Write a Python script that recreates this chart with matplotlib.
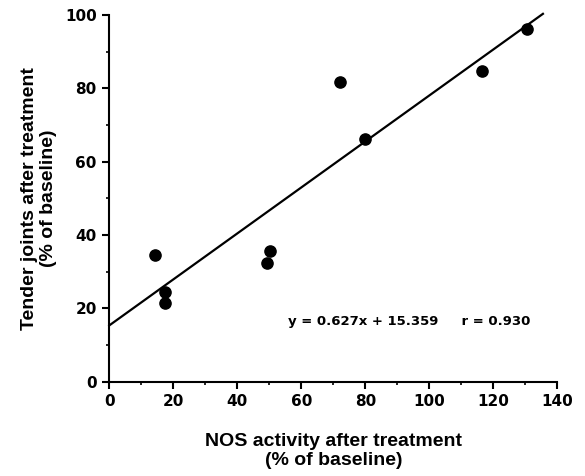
import matplotlib
matplotlib.use("Agg")
import matplotlib.pyplot as plt
import numpy as np
from matplotlib.ticker import MultipleLocator

# NOS activity vs tender joints (% of baseline)
nos_activity = [14.4, 17.5, 17.5, 49.2, 50.2, 72.1, 79.9, 116.5, 130.4]
tender_joints = [34.5, 24.5, 21.4, 32.5, 35.7, 81.8, 66.1, 84.8, 96.1]

SLOPE = 0.627
INTERCEPT = 15.359
R_VALUE = 0.930
LINE_X = [0, 135.5]

plt.rcParams['font.family'] = ['Liberation Sans', 'DejaVu Sans']
plt.rcParams['font.weight'] = 'bold'

fig = plt.figure(figsize=(5.85, 4.76), dpi=100)
ax = fig.add_axes([0.1868, 0.198, 0.7659, 0.7705])

ax.scatter(nos_activity, tender_joints, s=65, color='black', zorder=3)

lx = np.array(LINE_X)
ax.plot(lx, SLOPE * lx + INTERCEPT, color='black', lw=1.6, clip_on=False)

ax.set_xlim(0, 140)
ax.set_ylim(0, 100)
ax.xaxis.set_major_locator(MultipleLocator(20))
ax.xaxis.set_minor_locator(MultipleLocator(10))
ax.yaxis.set_major_locator(MultipleLocator(20))
ax.yaxis.set_minor_locator(MultipleLocator(10))

for side in ['top', 'right']:
    ax.spines[side].set_visible(False)
for side in ['left', 'bottom']:
    ax.spines[side].set_linewidth(1.5)

ax.tick_params(which='major', direction='out', length=5, width=1.5,
               labelsize=11, pad=4)
ax.tick_params(which='minor', direction='out', length=2.5, width=1.2)
for lab in ax.get_xticklabels() + ax.get_yticklabels():
    lab.set_fontweight('bold')
    lab.set_family('DejaVu Sans')

ax.set_xlabel("NOS activity after treatment\n(% of baseline)",
              fontsize=14, fontweight='bold', labelpad=17, linespacing=1.15)
ax.set_ylabel("Tender joints after treatment\n(% of baseline)",
              fontsize=14, fontweight='bold', labelpad=6, linespacing=1.1)

ax.text(56, 15.5, f"y = {SLOPE}x + {INTERCEPT}     r = {R_VALUE:.3f}",
        fontsize=9.5, fontweight='bold', family='DejaVu Sans')

fig.savefig("out.png", dpi=100)
